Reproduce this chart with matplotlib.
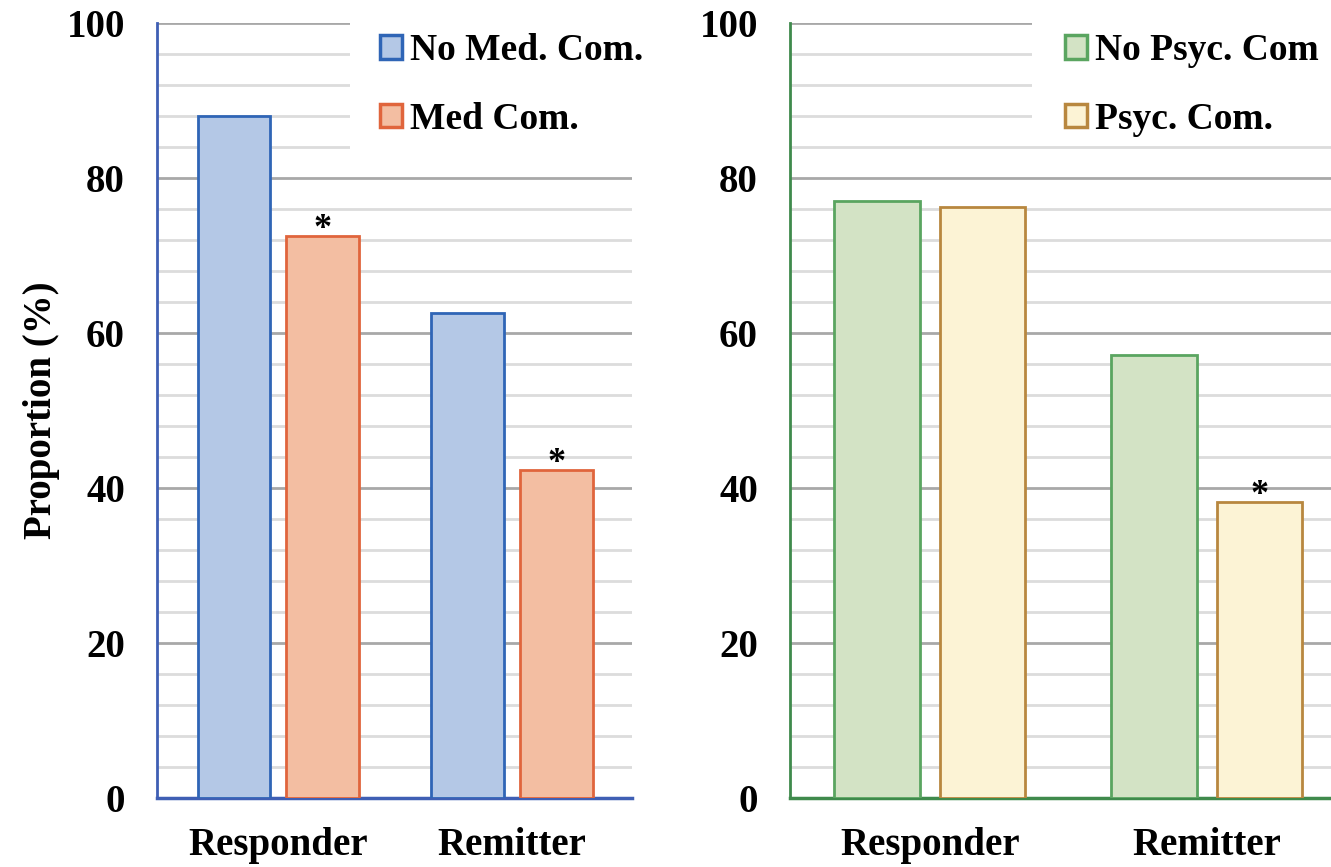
import matplotlib; matplotlib.use('Agg')
import matplotlib.pyplot as plt
from matplotlib.patches import Patch, Rectangle
import numpy as np

plt.rcParams.update({'font.family': 'Liberation Serif', 'font.weight': 'bold'})

categories = ['Responder', 'Remitter']
no_med = [88.0, 62.6]
med = [72.5, 42.3]
med_sig = [True, True]
no_psyc = [77.0, 57.2]
psyc = [76.3, 38.2]
psyc_sig = [False, True]

fig = plt.figure(figsize=(13.31, 8.67), dpi=100)
axL = fig.add_axes([0.118, 0.0796, 0.357, 0.894])
axR = fig.add_axes([0.5935, 0.0796, 0.4065, 0.894])

# ax, series a, series b, sig, labels, colours a, colours b, spine colour, xlim,
# white-box bottom (data), white-box left (axes frac), legend x (axes frac)
panels = [
    (axL, no_med, med, med_sig, ('No Med. Com.', 'Med Com.'),
     ('#b4c8e6', '#2f65b6'), ('#f3bea2', '#e0653c'), '#3f5fb4', (-0.519, 1.515), 82, 0.406, 0.469),
    (axR, no_psyc, psyc, psyc_sig, ('No Psyc. Com', 'Psyc. Com.'),
     ('#d3e3c5', '#5aa560'), ('#fcf3d5', '#b8873f'), '#3f8a4c', (-0.505, 1.448), 86, 0.447, 0.508),
]

x = np.arange(len(categories))
w = 0.31
off = 0.19
for ax, a, b, sig, labs, ca, cb, spc, xl, rb, rx, lx in panels:
    ax.bar(x - off, a, w, color=ca[0], edgecolor=ca[1], linewidth=2, zorder=3)
    ax.bar(x + off, b, w, color=cb[0], edgecolor=cb[1], linewidth=2, zorder=3)
    for i, s in enumerate(sig):
        if s:
            ax.annotate('*', (x[i] + off, b[i]), xytext=(0, -7), textcoords='offset points',
                        ha='center', va='bottom', fontsize=26, fontweight='bold', zorder=4)
    ax.set_ylim(0, 100)
    ax.set_xlim(*xl)
    ax.set_yticks(np.arange(0, 101, 20))
    ax.set_yticks(np.arange(0, 101, 4), minor=True)
    ax.grid(axis='y', which='major', color='#a8a8a8', lw=2, zorder=0)
    ax.grid(axis='y', which='minor', color='#dcdcdc', lw=2, zorder=0)
    ax.set_axisbelow(True)
    for s in ['top', 'right']:
        ax.spines[s].set_visible(False)
    ax.spines['left'].set_color(spc)
    ax.spines['bottom'].set_color(spc)
    ax.spines['left'].set_linewidth(2)
    ax.spines['bottom'].set_linewidth(2.5)
    ax.set_xticks(x)
    ax.set_xticklabels(categories)
    ax.tick_params(axis='both', which='both', length=0, labelsize=28)
    ax.tick_params(axis='x', pad=21)
    ax.tick_params(axis='y', pad=23)
    # white area behind legend hides gridlines
    ax.add_patch(Rectangle((rx, rb / 100), 1 - rx + 0.01, 1.03 - rb / 100,
                           transform=ax.transAxes, facecolor='white',
                           edgecolor='none', zorder=1.5, clip_on=False))
    handles = [Patch(facecolor=ca[0], edgecolor=ca[1], linewidth=2.5, label=labs[0]),
               Patch(facecolor=cb[0], edgecolor=cb[1], linewidth=2.5, label=labs[1])]
    ax.legend(handles=handles, loc='upper left', bbox_to_anchor=(lx, 0.987),
              frameon=False, fontsize=27, handlelength=0.6, handleheight=0.6,
              handletextpad=0.2, labelspacing=0.9, borderpad=0, borderaxespad=0)

axL.set_ylabel('Proportion (%)', fontsize=28, fontweight='bold', labelpad=5)

fig.savefig('out.png', dpi=100)
